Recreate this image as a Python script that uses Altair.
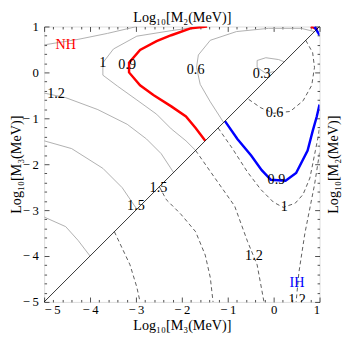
import altair as alt
import pandas as pd

FONT = "Liberation Serif"
major_ticks = [-5, -4, -3, -2, -1, 0, 1]
minor_ticks = [round(m + k * 0.2, 1) for m in major_ticks[:-1] for k in range(1, 5)]

# gray solid contours (upper-left triangle)
g_top_x = [-5.0, -4.26, -3.62, -2.98]
g_top_y = [0.60, 0.72, 0.85, 1.0]
g_1_x = [-1.60, -2.23, -2.98, -3.49, -3.72, -3.72, -3.40, -2.98, -2.55, -2.23, -1.91, -1.70]
g_1_y = [1.0, 0.91, 0.79, 0.51, 0.21, -0.06, -0.30, -0.60, -0.91, -1.23, -1.49, -1.70]
g_06_x = [0.89, 0.60, -0.11, -0.81, -1.38, -1.64, -1.68, -1.60, -1.38, -1.09]
g_06_y = [0.89, 0.96, 0.96, 0.89, 0.70, 0.38, 0.11, -0.26, -0.64, -1.09]
g_03_x = [0.02, -0.17, -0.36, -0.36, -0.17, 0.11, 0.23]
g_03_y = [0.02, -0.02, 0.11, 0.26, 0.32, 0.28, 0.23]
g_12_x = [-5.0, -4.53, -3.83, -3.19, -2.77, -2.45, -2.18]
g_12_y = [-0.45, -0.55, -0.81, -1.13, -1.45, -1.77, -2.18]
g_15_x = [-5.0, -4.40, -3.72, -3.30, -2.98]
g_15_y = [-1.49, -1.66, -2.09, -2.51, -2.98]
g_low_x = [-5.0, -4.53, -4.26, -4.0]
g_low_y = [-3.15, -3.36, -3.66, -4.0]

# dashed contours (lower-right triangle)
d_low_x = [-3.47, -3.30, -3.13, -2.98, -2.91]
d_low_y = [-3.47, -3.83, -4.19, -4.68, -5.0]
d_15_x = [-2.49, -2.34, -2.02, -1.70, -1.49, -1.38, -1.32]
d_15_y = [-2.49, -2.77, -3.09, -3.47, -3.98, -4.47, -5.0]
d_12a_x = [-1.70, -1.28, -0.85, -0.57, -0.36, -0.21]
d_12a_y = [-1.70, -2.30, -2.91, -3.68, -4.19, -5.0]
d_1_x = [-1.21, -0.91, -0.57, -0.28, 0.0, 0.21, 0.47, 0.64, 0.79, 0.91, 0.97, 1.0]
d_1_y = [-1.21, -1.64, -2.17, -2.55, -2.83, -2.94, -2.85, -2.66, -2.30, -1.70, -1.40, -1.20]
d_12b_x = [1.0, 0.93, 0.89, 0.68, 0.55, 0.49]
d_12b_y = [-1.75, -2.20, -2.45, -3.51, -4.36, -5.0]
d_06_x = [0.70, 0.85, 0.89, 0.83, 0.64, 0.36, 0.0, -0.28, -0.57]
d_06_y = [0.70, 0.43, 0.11, -0.28, -0.62, -0.85, -0.89, -0.77, -0.57]

# highlighted contours
nh_x = [-1.45, -1.81, -2.23, -2.55, -2.91, -3.15, -3.15, -2.91, -2.62, -2.23, -1.91, -1.70, -1.49]
nh_y = [1.0, 0.96, 0.81, 0.68, 0.49, 0.21, 0.0, -0.28, -0.49, -0.74, -0.96, -1.21, -1.49]
nh_corner_x = [0.81, 0.96]
nh_corner_y = [1.0, 0.94]
ih_x = [-1.06, -0.79, -0.49, -0.26, -0.06, 0.26, 0.49, 0.74, 0.85, 0.94, 1.0]
ih_y = [-1.06, -1.45, -1.81, -2.13, -2.34, -2.36, -2.19, -1.70, -1.28, -0.96, -0.70]
ih_corner_x = [0.89, 1.0]
ih_corner_y = [1.0, 0.81]

diag_x = [-5, 1]
diag_y = [-5, 1]

label_text = ["NH", "1", "0.9", "1.2", "0.6", "0.3", "0.6", "0.9", "1", "1.5", "1.5", "1.2", "IH", "1.2"]
label_x = [-4.53, -3.72, -3.19, -4.74, -1.70, -0.26, 0.02, 0.06, 0.23, -3.0, -2.51, -0.43, 0.51, 0.51]
label_y = [0.60, 0.21, 0.15, -0.47, 0.04, -0.04, -0.89, -2.34, -2.94, -2.91, -2.51, -4.0, -4.60, -4.97]
label_color = ["#ff0000"] + ["#000000"] * 11 + ["#0000ff", "#000000"]


def frame(groups):
    rows = []
    for name, xs, ys in groups:
        for i, (a, b) in enumerate(zip(xs, ys)):
            rows.append({"c": name, "i": i, "x": a, "y": b})
    return pd.DataFrame(rows)


gray_df = frame([("top", g_top_x, g_top_y), ("1", g_1_x, g_1_y), ("06", g_06_x, g_06_y),
                 ("03", g_03_x, g_03_y), ("12", g_12_x, g_12_y), ("15", g_15_x, g_15_y),
                 ("low", g_low_x, g_low_y)])
dash_df = frame([("low", d_low_x, d_low_y), ("15", d_15_x, d_15_y), ("12a", d_12a_x, d_12a_y),
                 ("1", d_1_x, d_1_y), ("12b", d_12b_x, d_12b_y), ("06", d_06_x, d_06_y)])
red_df = frame([("nh", nh_x, nh_y), ("c", nh_corner_x, nh_corner_y)])
blue_df = frame([("ih", ih_x, ih_y), ("c", ih_corner_x, ih_corner_y)])
diag_df = frame([("d", diag_x, diag_y)])
lab_df = pd.DataFrame({"t": label_text, "x": label_x, "y": label_y, "col": label_color})

sc = alt.Scale(domain=[-5, 1], nice=False, zero=False)
LBL = "datum.value < 0 ? '\u2212\u2009' + abs(datum.value) : '' + datum.value"
TITLE_X = "Log\u2081\u2080[M\u2083(MeV)]"
TITLE_Y2 = "Log\u2081\u2080[M\u2082(MeV)]"


def ax(orient, values, size, labels, title=None, **kw):
    return alt.Axis(orient=orient, values=values, tickSize=size, offset=-size, domain=False,
                    grid=False, labels=labels, title=title, tickColor="black", tickWidth=0.7,
                    labelFont=FONT, labelFontSize=13, labelColor="black", labelExpr=LBL,
                    titleFont=FONT, titleFontSize=14.5, titleFontWeight="normal", titleColor="black",
                    **kw)


common_line = dict(clip=True)

gray = alt.Chart(gray_df).mark_line(color="#a6a6a6", strokeWidth=0.9, **common_line).encode(
    x=alt.X("x:Q", scale=sc, axis=ax("bottom", major_ticks, 5, True, TITLE_X, labelPadding=2,
                                     titleX=141, titleY=33, titleBaseline="alphabetic", titleAlign="center")),
    y=alt.Y("y:Q", scale=sc, axis=ax("left", major_ticks, 5, True, TITLE_X, labelPadding=6,
                                     titleX=-29, titleY=141, titleAngle=-90, titleBaseline="alphabetic",
                                     titleAlign="center")),
    detail="c:N", order="i:Q")

dash = alt.Chart(dash_df).mark_line(color="#333333", strokeWidth=0.8, strokeDash=[4, 3], **common_line).encode(
    x=alt.X("x:Q", scale=sc, axis=ax("top", major_ticks, 5, False, TITLE_Y2,
                                     titleX=141, titleY=-10, titleBaseline="alphabetic", titleAlign="center")),
    y=alt.Y("y:Q", scale=sc, axis=ax("right", major_ticks, 5, False, TITLE_Y2,
                                     titleX=23, titleY=141, titleAngle=-90, titleBaseline="alphabetic",
                                     titleAlign="center")),
    detail="c:N", order="i:Q")

red = alt.Chart(red_df).mark_line(color="#ff0000", strokeWidth=2.5, **common_line).encode(
    x=alt.X("x:Q", scale=sc, axis=ax("bottom", minor_ticks, 2.5, False)),
    y=alt.Y("y:Q", scale=sc, axis=ax("left", minor_ticks, 2.5, False)),
    detail="c:N", order="i:Q")

blue = alt.Chart(blue_df).mark_line(color="#0000ff", strokeWidth=2.5, **common_line).encode(
    x=alt.X("x:Q", scale=sc, axis=ax("top", minor_ticks, 2.5, False)),
    y=alt.Y("y:Q", scale=sc, axis=ax("right", minor_ticks, 2.5, False)),
    detail="c:N", order="i:Q")

diag = alt.Chart(diag_df).mark_line(color="black", strokeWidth=0.8).encode(
    x=alt.X("x:Q", scale=sc, axis=None), y=alt.Y("y:Q", scale=sc, axis=None),
    detail="c:N", order="i:Q")

labels = alt.Chart(lab_df).mark_text(font=FONT, fontSize=14.5, clip=True).encode(
    x=alt.X("x:Q", scale=sc, axis=None), y=alt.Y("y:Q", scale=sc, axis=None),
    text="t:N", color=alt.Color("col:N", scale=None))

chart = alt.layer(gray, dash, red, blue, diag, labels).resolve_axis(
    x="independent", y="independent"
).properties(
    width=282, height=282,
    autosize=alt.AutoSizeParams(type="none"),
    padding={"left": 37, "top": 15, "right": 23, "bottom": 34},
).configure_view(stroke="black", strokeWidth=0.8).configure(background="white")

chart.save("out.html", embed_options={"renderer": "svg", "actions": False})
